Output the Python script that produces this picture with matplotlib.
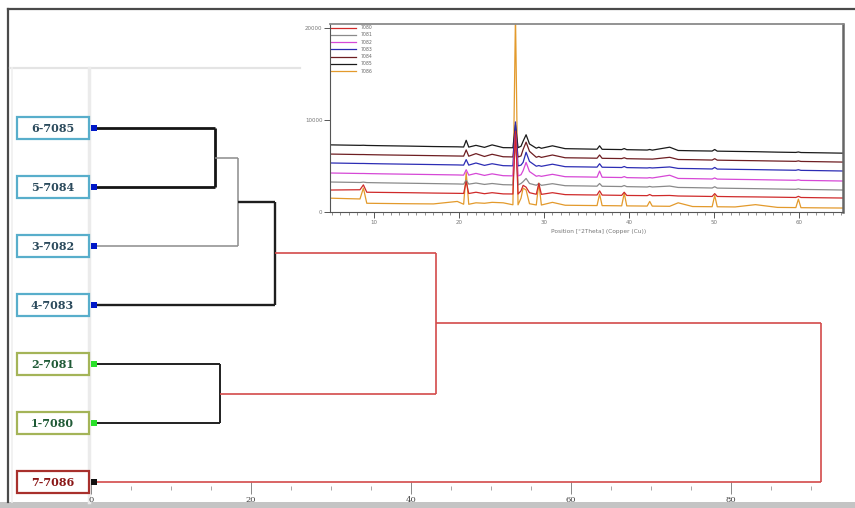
import matplotlib
matplotlib.use("Agg")
import matplotlib.pyplot as plt
from matplotlib.lines import Line2D
from matplotlib.patches import Rectangle

# ---------------- dendrogram data ----------------
leaf_labels = ["6-7085", "5-7084", "3-7082", "4-7083", "2-7081", "1-7080", "7-7086"]
leaf_group = ["blue", "blue", "blue", "blue", "green", "green", "red"]
# linkage: (child_a, child_b, distance); new cluster ids start at 7
links_a = [0, 7, 8, 4, 9, 11]
links_b = [1, 2, 3, 5, 10, 6]
merge_heights = [15.5, 18.4, 23.0, 16.1, 43.1, 91.25]
link_colors = ["#151515", "#8c8c8c", "#1e1e1e", "#202020", "#d34a4a", "#d34a4a"]
link_widths = [2.0, 1.1, 1.7, 1.4, 1.2, 1.2]
dendro_ticks = [0, 20, 40, 60, 80]

# ---------------- XRD inset data ----------------
two_theta = [5.0, 7.0, 8.35, 8.75, 9.15, 11.0, 14.0, 17.0, 19.8, 20.55, 20.85, 21.15, 22.0, 23.0,
             23.9, 25.2, 26.35, 26.65, 26.95, 27.3, 27.55, 27.9, 28.3, 29.1, 29.4, 29.7, 31.0,
             32.5, 35.0, 36.25, 36.55, 36.85, 38.5, 39.15, 39.45, 39.75, 42.15, 42.45, 42.75,
             44.8, 45.8, 47.5, 49.8, 50.1, 50.4, 52.5, 54.9, 57.5, 59.65, 59.95, 60.25, 62.5, 65.2]

xrd_7085 = [7300, 7270, 7250, 7260, 7240, 7210, 7170, 7120, 7090, 7070, 7800, 7060, 7250, 7030,
            7300, 7000, 6990, 9500, 7000, 7150, 7700, 8400, 7400, 6940, 7050, 6930, 7200,
            6890, 6850, 6830, 7200, 6820, 6800, 6790, 6900, 6780, 6740, 6800, 6730,
            7050, 6690, 6660, 6630, 6800, 6620, 6590, 6560, 6510, 6480, 6530, 6470, 6440, 6400]
xrd_7084 = [6300, 6270, 6250, 6250, 6240, 6210, 6170, 6130, 6090, 6080, 6750, 6070, 6350, 6040,
            6280, 6010, 5990, 9000, 5980, 6100, 6800, 7600, 6600, 5950, 6050, 5940, 6200,
            5900, 5870, 5850, 6200, 5840, 5820, 5810, 5900, 5800, 5760, 5760, 5750,
            5950, 5710, 5690, 5650, 5800, 5640, 5610, 5580, 5540, 5510, 5560, 5500, 5470, 5430]
xrd_7083 = [5330, 5300, 5280, 5280, 5270, 5240, 5200, 5160, 5120, 5100, 5700, 5100, 5330, 5070,
            5250, 5040, 5020, 9800, 5010, 5100, 5400, 6500, 5500, 4980, 5050, 4970, 5200,
            4930, 4900, 4880, 5250, 4870, 4850, 4840, 4950, 4830, 4790, 4820, 4790,
            4900, 4740, 4720, 4680, 4850, 4670, 4640, 4610, 4570, 4540, 4600, 4530, 4500, 4460]
xrd_7082 = [4240, 4210, 4190, 4190, 4180, 4150, 4110, 4070, 4030, 4010, 4600, 4010, 4200, 3980,
            4150, 3950, 3930, 8500, 3920, 4050, 4500, 5400, 4400, 3890, 3950, 3880, 4100,
            3840, 3810, 3790, 4450, 3780, 3760, 3750, 3850, 3740, 3700, 3740, 3700,
            4000, 3650, 3630, 3590, 3700, 3580, 3550, 3520, 3480, 3450, 3500, 3440, 3410, 3370]
xrd_7081 = [3260, 3230, 3210, 3250, 3200, 3170, 3130, 3090, 3050, 3030, 3450, 3030, 3150, 3000,
            3100, 2970, 2950, 8000, 2940, 3100, 3300, 3650, 3100, 2910, 3100, 2900, 3080,
            2860, 2830, 2810, 3100, 2800, 2780, 2770, 2880, 2760, 2720, 2780, 2720,
            2820, 2670, 2650, 2610, 2750, 2600, 2570, 2540, 2500, 2470, 2520, 2460, 2430, 2390]
xrd_7080 = [2390, 2410, 2420, 2950, 2150, 2130, 2100, 2060, 2030, 2020, 3300, 2010, 2150, 1990,
            2100, 1970, 1960, 8800, 1950, 2300, 2900, 2700, 2100, 1930, 3100, 1920, 2100,
            1890, 1860, 1850, 2300, 1840, 1820, 1810, 2150, 1800, 1780, 1900, 1770,
            1800, 1740, 1720, 1690, 2000, 1690, 1660, 1640, 1610, 1580, 1700, 1580, 1550, 1520]
xrd_7086 = [1500, 1450, 1420, 2600, 950, 930, 900, 880, 1150, 845, 4300, 840, 1000, 950,
            1050, 1000, 785, 21500, 780, 1500, 2600, 2400, 900, 765, 3150, 760, 1050,
            735, 710, 700, 1950, 695, 680, 670, 2050, 665, 645, 1150, 640,
            620, 1000, 595, 575, 1800, 570, 550, 800, 500, 480, 1400, 470, 450, 430]

xrd_names = ["7080", "7081", "7082", "7083", "7084", "7085", "7086"]
xrd_series = [xrd_7080, xrd_7081, xrd_7082, xrd_7083, xrd_7084, xrd_7085, xrd_7086]
xrd_colors = ["#cf2a2a", "#8a8a8a", "#d648d6", "#2c2cb4", "#6e1e22", "#1a1a1a", "#e39a2c"]
xrd_draw_order = [6, 5, 4, 3, 1, 2, 0]
xrd_xticks = [10, 20, 30, 40, 50, 60]
xrd_yticks = [0, 10000, 20000]

W, H = 855, 508
fig = plt.figure(figsize=(W / 100, H / 100), dpi=100)
fig.patch.set_facecolor("white")


def fr(x0, y0, x1, y1):
    return [x0 / W, 1 - y1 / H, (x1 - x0) / W, (y1 - y0) / H]


def fline(xs, ys, z=-1, **kw):
    fig.add_artist(Line2D([x / W for x in xs], [1 - y / H for y in ys],
                          transform=fig.transFigure, zorder=z, **kw))


# decorative frame / guide lines (behind the axes)
fig.add_artist(Rectangle((0, 0), 1, 6 / H, transform=fig.transFigure,
                         facecolor="#c4c4c4", edgecolor="none", zorder=-1))
fline([8, 855], [9, 9], color="#4a4a4a", lw=1.6)
fline([8, 8], [9, 502], color="#4a4a4a", lw=1.6)
fline([10, 300], [68, 68], color="#e4e4e4", lw=1.6)
fline([88.5, 88.5], [68, 502], color="#ebebeb", lw=2.5)
fline([12, 12], [68, 502], color="#f0f0f0", lw=1.2)

# ---------------- dendrogram ----------------
ax = fig.add_axes(fr(91, 68, 850, 488))
ax.patch.set_alpha(0)
ax.set_xlim(0, 94.9)
ax.set_ylim(6.10, -1.017)
for s in ax.spines.values():
    s.set_visible(False)
ax.set_yticks([])
ax.set_xticks(dendro_ticks)
ax.set_xticks(range(0, 95, 5), minor=True)
ax.set_xticklabels([str(t) for t in dendro_ticks], fontsize=6, color="#444",
                   family="DejaVu Serif")
ax.tick_params(axis="x", which="major", direction="inout", length=8, width=0.7,
               color="#888", pad=2)
ax.tick_params(axis="x", which="minor", direction="inout", length=3, width=0.6, color="#999")

node_x = {i: 0.0 for i in range(len(leaf_labels))}
node_y = {i: float(i) for i in range(len(leaf_labels))}
for k, (a, b, h) in enumerate(zip(links_a, links_b, merge_heights)):
    c, lw = link_colors[k], link_widths[k]
    ax.plot([node_x[a], h], [node_y[a], node_y[a]], color=c, lw=lw, solid_capstyle="butt")
    ax.plot([node_x[b], h], [node_y[b], node_y[b]], color=c, lw=lw, solid_capstyle="butt")
    ax.plot([h, h], [node_y[a], node_y[b]], color=c, lw=lw, solid_capstyle="butt")
    nid = len(leaf_labels) + k
    node_x[nid] = h
    node_y[nid] = (node_y[a] + node_y[b]) / 2

box_style = {"blue": ("#58aecb", "#2b4a5c", "#0018c8"),
             "green": ("#a4b458", "#1f5a36", "#29e029"),
             "red": ("#a8302c", "#8a1616", "#111111")}
for i, lab in enumerate(leaf_labels):
    edge, tc, mc = box_style[leaf_group[i]]
    ax.add_patch(Rectangle((-9.3, i - 0.19), 9.0, 0.38, facecolor="white", edgecolor=edge,
                           lw=1.6, clip_on=False, zorder=3))
    ax.text(-4.8, i + 0.01, lab, ha="center", va="center", fontsize=8, fontweight="bold",
            color=tc, family="DejaVu Serif", clip_on=False, zorder=4)
    ax.plot([0.35], [i], marker="s", markersize=4.3, color=mc, clip_on=False, zorder=5,
            markeredgewidth=0)

# ---------------- XRD inset ----------------
ax_in = fig.add_axes(fr(330, 24, 843, 212))
ax_in.set_zorder(3)
ax_in.set_xlim(4.82, 65.2)
ax_in.set_ylim(0, 20450)
for idx in xrd_draw_order:
    ax_in.plot(two_theta, xrd_series[idx], color=xrd_colors[idx], lw=0.9)
ax_in.spines["left"].set_color("#555")
ax_in.spines["left"].set_linewidth(0.8)
ax_in.spines["bottom"].set_color("#555")
ax_in.spines["bottom"].set_linewidth(0.8)
ax_in.spines["top"].set_color("#8a8a8a")
ax_in.spines["top"].set_linewidth(1.3)
ax_in.spines["right"].set_color("#666")
ax_in.spines["right"].set_linewidth(1.8)
ax_in.set_xticks(xrd_xticks)
ax_in.set_xticks(range(5, 66, 1), minor=True)
ax_in.set_yticks(xrd_yticks)
ax_in.set_xticklabels([str(t) for t in xrd_xticks], fontsize=4, color="#777")
ax_in.set_yticklabels([str(t) for t in xrd_yticks], fontsize=4, color="#777")
ax_in.tick_params(axis="both", which="major", direction="out", length=4, width=0.7,
                  color="#555", pad=1.5)
ax_in.tick_params(axis="x", which="minor", direction="out", length=2, width=0.5, color="#666")
fig.text(599 / W, 1 - 231 / H, "Position [°2Theta] (Copper (Cu))", ha="center", va="center",
         fontsize=4.2, color="#777")

leg_y = [27.7, 35, 42.2, 49.5, 56.8, 64, 71.2]
for name, col, py in zip(xrd_names, xrd_colors, leg_y):
    yf = (212 - py) / 188
    ax_in.plot([1 / 513, 26 / 513], [yf, yf], color=col, lw=0.9, transform=ax_in.transAxes)
    ax_in.text(31 / 513, yf, name, fontsize=3.3, color="#666", va="center", ha="left",
               transform=ax_in.transAxes)

fig.savefig("out.png", dpi=100)
